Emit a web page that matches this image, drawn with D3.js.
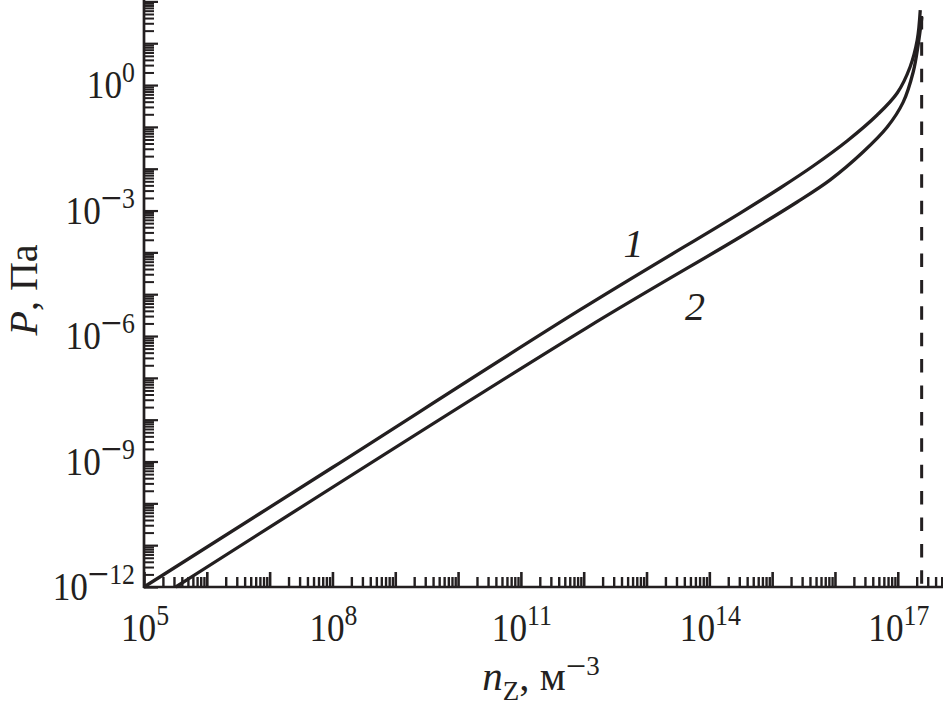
<!DOCTYPE html>
<html>
<head>
<meta charset="utf-8">
<script src="https://cdn.jsdelivr.net/npm/d3@7"></script>
<style>
  html, body { margin: 0; padding: 0; background: #fff; }
  svg { display: block; }
  text { font-family: "Liberation Serif", "Times New Roman", serif; fill: #231f20; }
</style>
</head>
<body>
<svg id="chart" width="943" height="713"></svg>
<script>
// ---- data ----
const curve1N = [1e5, 1e8, 8.7e11, 3.1e14, 1.34e15, 4.5e15, 1.56e16, 4.7e16, 9.8e16, 1.57e17, 2.04e17, 2.28e17];
const curve1P = [1e-12, 7.2e-10, 4.2e-6, 8.7e-4, 3.46e-3, 1.16e-2, 4.6e-2, 0.192, 0.645, 2.7, 11.9, 62];
const curve2N = [3.2e5, 1.1e12, 3.1e14, 2.5e15, 8.4e15, 2.8e16, 6.8e16, 1.22e17, 1.76e17, 2.11e17, 2.42e17];
const curve2P = [1e-12, 1.55e-6, 2.33e-4, 1.6e-3, 5.4e-3, 2.5e-2, 9.9e-2, 0.39, 2.05, 9.1, 42];
const limitN = 2.4e17;          // dashed vertical line
const limitPTop = 45;
const xLabelExps = [5, 8, 11, 14, 17];
const yLabelExps = [0, -3, -6, -9, -12];
const curveLabels = [{text: "1", n: 6.2e12, p: 7.8e-5}, {text: "2", n: 5.9e13, p: 2.4e-6}];

// ---- scales ----
const svg = d3.select("#chart");
const ink = "#231f20";
const x = d3.scaleLog().domain([1e5, Math.pow(10, 17.72)]).range([144, 943]);
const y = d3.scaleLog().domain([1e-12, 1e2]).range([587, 1.4]);

// tick values
const xMajor = d3.range(5, 18).map(e => Math.pow(10, e));
const xMinor = [];
for (let e = 5; e <= 17; e++) for (let m = 2; m <= 9; m++) { const v = m * Math.pow(10, e); if (v <= x.domain()[1]) xMinor.push(v); }
const yMajor = d3.range(-12, 3).map(e => Math.pow(10, e));
const yMinor = [];
for (let e = -12; e <= 1; e++) for (let m = 2; m <= 9; m++) yMinor.push(m * Math.pow(10, e));

function styleAxis(g, w) {
  g.select(".domain").remove();
  g.selectAll("line").attr("stroke", ink).attr("stroke-width", w);
}

// x axis ticks (pointing up, inside)
svg.append("g").attr("transform", "translate(0,587)")
  .call(d3.axisTop(x).tickValues(xMinor).tickSize(10).tickFormat(""))
  .call(g => styleAxis(g, 2.4));
svg.append("g").attr("transform", "translate(0,587)")
  .call(d3.axisTop(x).tickValues(xMajor).tickSize(15).tickFormat(""))
  .call(g => styleAxis(g, 2.6));

// y axis ticks (pointing right, inside)
svg.append("g").attr("transform", "translate(144,0)")
  .call(d3.axisRight(y).tickValues(yMinor).tickSize(10).tickFormat(""))
  .call(g => styleAxis(g, 2.0));
svg.append("g").attr("transform", "translate(144,0)")
  .call(d3.axisRight(y).tickValues(yMajor).tickSize(14).tickFormat(""))
  .call(g => styleAxis(g, 2.2));

// axis lines
svg.append("line").attr("x1", 143).attr("x2", 943).attr("y1", 587).attr("y2", 587)
  .attr("stroke", ink).attr("stroke-width", 2.7);
svg.append("line").attr("x1", 144).attr("x2", 144).attr("y1", 588).attr("y2", 0)
  .attr("stroke", ink).attr("stroke-width", 2.7);

// power-of-ten label helper
function powLabel(g, exp, anchor) {
  const t = g.append("text").attr("text-anchor", anchor).attr("font-size", 41);
  t.append("tspan").text("10");
  const s = String(exp);
  if (s.startsWith("-")) {
    t.append("tspan").attr("font-size", 44).attr("dy", -11).text("\u2212");
    t.append("tspan").attr("font-size", 30).attr("dy", -5).text(s.slice(1));
  } else {
    t.append("tspan").attr("font-size", 30).attr("dy", -16).text(s);
  }
}

xLabelExps.forEach(e => {
  const g = svg.append("g").attr("transform", `translate(${x(Math.pow(10, e)) + 1},641) scale(0.86,1)`);
  powLabel(g, e, "middle");
});
yLabelExps.forEach(e => {
  const g = svg.append("g").attr("transform", `translate(135,${y(Math.pow(10, e)) + 13}) scale(0.86,1)`);
  powLabel(g, e, "end");
});

// axis titles
const xt = svg.append("text").attr("x", 541).attr("y", 690).attr("text-anchor", "middle").attr("font-size", 41);
xt.append("tspan").attr("font-style", "italic").text("n");
xt.append("tspan").attr("font-size", 27).attr("dy", 10).text("Z");
xt.append("tspan").attr("dy", -10).text(", м");
xt.append("tspan").attr("font-size", 36).attr("dy", -12).text("\u2212");
xt.append("tspan").attr("font-size", 27).attr("dy", -3).text("3");

const yt = svg.append("text").attr("transform", "translate(37,290) rotate(-90)")
  .attr("text-anchor", "middle").attr("font-size", 40);
yt.append("tspan").attr("font-style", "italic").text("P");
yt.append("tspan").text(", Па");

// dashed limit line
svg.append("line")
  .attr("x1", x(limitN)).attr("x2", x(limitN))
  .attr("y1", y(limitPTop)).attr("y2", 587)
  .attr("stroke", ink).attr("stroke-width", 3).attr("stroke-dasharray", "13.5,12.9");

// curves
const line = d3.line().x(d => x(d[0])).y(d => y(d[1])).curve(d3.curveCatmullRom.alpha(0.5));
[[curve1N, curve1P], [curve2N, curve2P]].forEach(([ns, ps]) => {
  svg.append("path").datum(ns.map((n, i) => [n, ps[i]]))
    .attr("d", line).attr("fill", "none").attr("stroke", ink)
    .attr("stroke-width", 3.3).attr("stroke-linejoin", "round").attr("stroke-linecap", "butt");
});

// curve labels
curveLabels.forEach(c => {
  svg.append("text").attr("x", x(c.n)).attr("y", y(c.p)).attr("text-anchor", "middle")
    .attr("font-size", 40).attr("font-style", "italic").text(c.text);
});
</script>
</body>
</html>
